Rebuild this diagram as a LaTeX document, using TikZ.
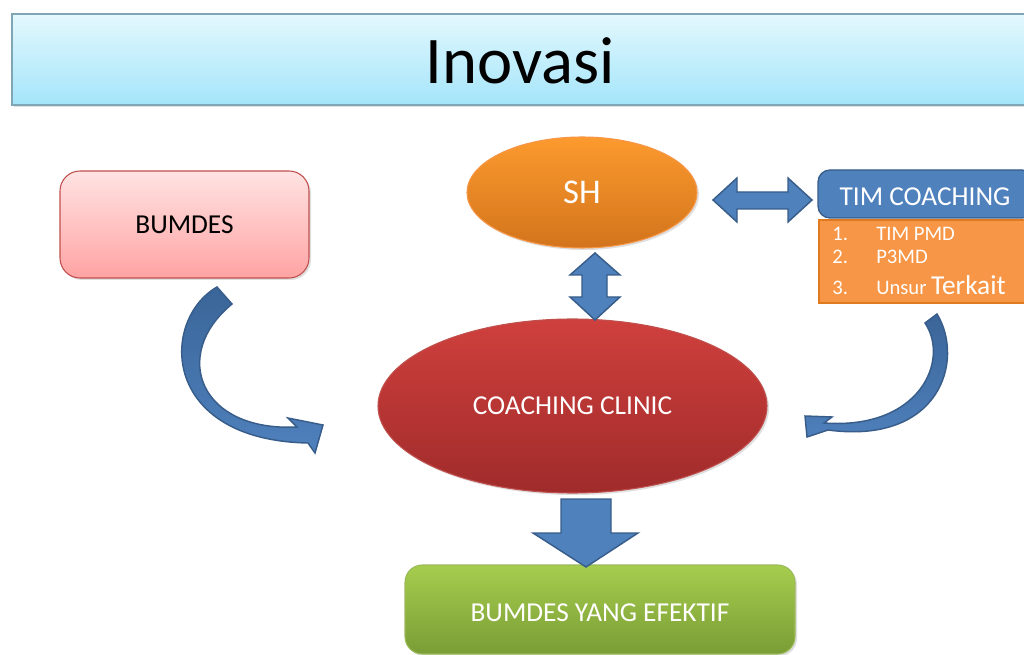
\documentclass[tikz,border=0pt]{standalone}
\usepackage{fontspec}
\setmainfont{Carlito}
\usetikzlibrary{shapes.geometric,shadows}
\definecolor{titletop}{HTML}{E3F8FD}
\definecolor{titlebot}{HTML}{A4E5FA}
\definecolor{titleborder}{HTML}{7FA6B5}
\definecolor{pinktop}{HTML}{FFE3E3}
\definecolor{pinkbot}{HTML}{FFA3A3}
\definecolor{pinkborder}{HTML}{C0504D}
\definecolor{shtop}{HTML}{FC9A2E}
\definecolor{shbot}{HTML}{D2741C}
\definecolor{shborder}{HTML}{F79646}
\definecolor{redtop}{HTML}{CF403D}
\definecolor{redbot}{HTML}{A02B2B}
\definecolor{redborder}{HTML}{C0504D}
\definecolor{greentop}{HTML}{A6CD4E}
\definecolor{greenbot}{HTML}{7A9D35}
\definecolor{greenborder}{HTML}{9BBB59}
\definecolor{blockblue}{HTML}{4F81BD}
\definecolor{blockdark}{HTML}{3A6598}
\definecolor{blockborder}{HTML}{385D8A}
\definecolor{listorange}{HTML}{F79646}
\definecolor{listborder}{HTML}{E07A1F}
\begin{document}
\begin{tikzpicture}[x=0.75pt,y=-0.75pt,
  softshadow/.style={drop shadow={opacity=0.25,shadow xshift=1.5pt,shadow yshift=-1.5pt}},
  titlebox/.style={rectangle,draw=titleborder,line width=0.8pt,top color=titletop,bottom color=titlebot,softshadow},
  pinkbox/.style={rectangle,rounded corners=15pt,draw=pinkborder,line width=0.8pt,top color=pinktop,bottom color=pinkbot,softshadow},
  shell/.style={ellipse,inner sep=0pt,draw=shborder,line width=0.8pt,top color=shtop,bottom color=shbot,softshadow},
  redell/.style={ellipse,inner sep=0pt,draw=redborder,line width=0.8pt,top color=redtop,bottom color=redbot,softshadow},
  greenbox/.style={rectangle,rounded corners=13pt,draw=greenborder,line width=0.8pt,top color=greentop,bottom color=greenbot,softshadow},
  bluebox/.style={rectangle,rounded corners=9pt,draw=blockborder,line width=1pt,fill=blockblue},
  orangebox/.style={rectangle,draw=listborder,line width=1pt,fill=listorange},
  blockarrow/.style={draw=blockborder,line width=1.1pt,fill=blockblue,line join=miter},
  curvearrow/.style={draw=blockborder,line width=1.1pt,top color=blockdark,bottom color=blockblue,line join=miter},
  bigtxt/.style={font=\fontsize{20.5}{24}\selectfont},
  listtxt/.style={font=\fontsize{15.5}{18}\selectfont,text=white,inner sep=0pt}]
\useasboundingbox (0,0) rectangle (1024,655);
\clip (0,0) rectangle (1024,655);
\fill[white] (0,0) rectangle (1024,655);

% title
\node[titlebox,minimum width=1018*0.75pt,minimum height=91*0.75pt] (title) at (521,59.5) {};
\node[font=\fontsize{50}{60}\selectfont,inner sep=0pt] (titletext) at (520,61) {Inovasi};

% BUMDES
\node[pinkbox,minimum width=249*0.75pt,minimum height=107*0.75pt,bigtxt] (bumdes) at (184.5,224.5) {BUMDES};

% SH
\node[shell,minimum width=230*0.75pt,minimum height=111*0.75pt,text=white,font=\fontsize{26}{30}\selectfont] (sh) at (582,192.5) {SH};

% Coaching clinic
\node[redell,minimum width=389*0.75pt,minimum height=174*0.75pt,text=white,bigtxt] (clinic) at (572.5,406) {COACHING CLINIC};

% Result box
\node[greenbox,minimum width=390*0.75pt,minimum height=89*0.75pt] (efektif) at (600,609.5) {};
\node[text=white,bigtxt,inner sep=0pt] (efektiftext) at (600,612.5) {BUMDES YANG EFEKTIF};

% TIM COACHING
\node[orangebox,minimum width=215*0.75pt,minimum height=83*0.75pt] (list) at (926.5,261.5) {};
\node[bluebox,minimum width=216*0.75pt,minimum height=48*0.75pt] (tim) at (926,194) {};
\node[text=white,bigtxt,inner sep=0pt] (timtext) at (925,196.5) {TIM COACHING};
\node[listtxt,anchor=base west] (n1) at (832,241) {1.};
\node[listtxt,anchor=base west] (i1) at (876,241) {TIM PMD};
\node[listtxt,anchor=base west] (n2) at (832,264) {2.};
\node[listtxt,anchor=base west] (i2) at (876,264) {P3MD};
\node[listtxt,anchor=base west] (n3) at (832,295) {3.};
\node[listtxt,anchor=base west] (i3) at (876,295) {Unsur {\fontsize{20.5}{24}\selectfont Terkait}};

% horizontal double arrow between SH and TIM COACHING
\path[blockarrow] (713,200) -- (737,178) -- (737,192) -- (788,192) -- (788,178) -- (812,200)
  -- (788,222) -- (788,209) -- (737,209) -- (737,222) -- cycle;

% vertical double arrow between SH and clinic
\path[blockarrow] (595,253) -- (620,275) -- (607,275) -- (607,297) -- (620,297) -- (595,320)
  -- (570,297) -- (582,297) -- (582,275) -- (570,275) -- cycle;

% down arrow from clinic to result
\path[blockarrow] (561,499) -- (611,499) -- (611,533) -- (638,533) -- (586,567)
  -- (533,533) -- (561,533) -- cycle;

% curved arrow from BUMDES to clinic
\path[curvearrow] (217,287) .. controls (160,320) and (160,440) .. (308,443)
  -- (315,453) -- (323,425) -- (288,418) -- (297,427)
  .. controls (200,432) and (170,355) .. (232,304) -- cycle;

% curved arrow from TIM COACHING to clinic
\path[curvearrow] (937,314) .. controls (965,360) and (940,445) .. (828,430)
  -- (807,437) -- (805,416) -- (832,417) -- (824,423)
  .. controls (920,430) and (950,360) .. (925,323) -- cycle;
\end{tikzpicture}
\end{document}
